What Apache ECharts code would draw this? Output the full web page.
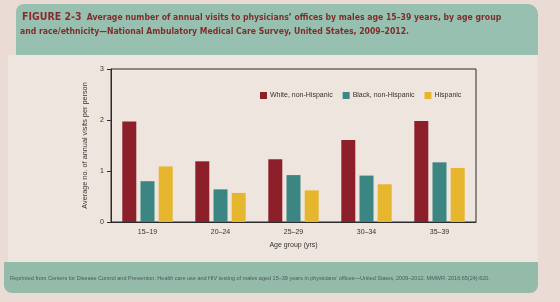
<!DOCTYPE html>
<html>
<head>
    <meta charset="utf-8">
    <script src="https://cdn.jsdelivr.net/npm/echarts@6/dist/echarts.min.js"></script>
    <style>
        html, body { margin:0; padding:0; background:#eadcd4; }
    </style>
</head>
<body>
    <div id="main" style="width:560px;height:302px"></div>
    <script type="text/javascript">
        // age groups and visits per person
        var ageGroups = ['15\u201319', '20\u201324', '25\u201329', '30\u201334', '35\u201339'];
        var whiteNH = [1.97, 1.19, 1.23, 1.61, 1.98];
        var blackNH = [0.80, 0.64, 0.92, 0.91, 1.17];
        var hispanic = [1.09, 0.57, 0.62, 0.74, 1.06];
        var yTicks = [0, 1, 2, 3];

        var myChart = echarts.init(document.getElementById('main'));
        var font = 'Liberation Sans, Arial, sans-serif';

        var option = {
            backgroundColor: '#eadcd4',
            animation: false,
            graphic: [
                // teal header band
                { type: 'rect', shape: { x: 16, y: 4, width: 522, height: 60, r: [8, 10, 0, 0] },
                  style: { fill: '#97c0b0' }, z: -10 },
                // light panel
                { type: 'rect', shape: { x: 8, y: 55, width: 530, height: 210 },
                  style: { fill: '#efe5df' }, z: -9 },
                // footer band
                { type: 'rect', shape: { x: 4, y: 262, width: 534, height: 31, r: [0, 0, 8, 8] },
                  style: { fill: '#94bba9' }, z: -9 },
                { type: 'text', left: 22, top: 12, z: 5,
                  style: {
                    text: '{a|FIGURE 2-3}{b|  Average number of annual visits to physicians\u2019 offices by males age 15\u201339 years, by age group}',
                    rich: {
                        a: { fontSize: 10.5, fontWeight: 'bold', fill: '#8a2a2c', fontFamily: 'DejaVu Sans Condensed, sans-serif' },
                        b: { fontSize: 8.6, fontWeight: 'bold', fill: '#7e2e2c', fontFamily: 'DejaVu Sans Condensed, sans-serif' }
                    }
                  } },
                { type: 'text', left: 20, top: 27, z: 5,
                  style: {
                    text: 'and race/ethnicity\u2014National Ambulatory Medical Care Survey, United States, 2009\u20132012.',
                    fontSize: 8.6, fontWeight: 'bold', fill: '#7e2e2c', fontFamily: 'DejaVu Sans Condensed, sans-serif'
                  } },
                { type: 'text', left: 10, top: 275, z: 5,
                  style: {
                    text: 'Reprinted from Centers for Disease Control and Prevention. Health care use and HIV testing of males aged 15\u201339 years in physicians\u2019 offices\u2014United States, 2009\u20132012. MMWR. 2016;65(24):620.',
                    fontSize: 5.5, fill: '#4a5a55', fontFamily: font
                  } }
            ],
            legend: {
                left: 255, top: 87,
                itemWidth: 7, itemHeight: 7, itemGap: 10,
                icon: 'rect',
                textStyle: { fontSize: 7, color: '#333', fontFamily: font, padding: [0, 0, 0, -2] },
                data: ['White, non-Hispanic', 'Black, non-Hispanic', 'Hispanic']
            },
            grid: {
                left: 111, right: 84, top: 69, bottom: 80,
                show: true, borderColor: '#2b2b2b', borderWidth: 1, backgroundColor: 'transparent', z: 3
            },
            xAxis: {
                type: 'category',
                z: 6,
                data: ageGroups,
                name: 'Age group (yrs)',
                nameLocation: 'middle',
                nameGap: 20,
                nameTextStyle: { fontSize: 7, color: '#333', fontFamily: font },
                axisLine: { lineStyle: { color: '#2b2b2b', width: 1 } },
                axisTick: { alignWithLabel: true, length: 3, lineStyle: { color: '#2b2b2b' } },
                axisLabel: { fontSize: 7, color: '#333', margin: 7, fontFamily: font }
            },
            yAxis: {
                type: 'value',
                z: 6,
                min: yTicks[0], max: yTicks[yTicks.length - 1], interval: 1,
                name: 'Average no. of annual visits per person',
                nameLocation: 'middle',
                nameGap: 23,
                nameTextStyle: { fontSize: 7.3, color: '#333', fontFamily: font },
                axisLine: { show: true, lineStyle: { color: '#2b2b2b', width: 1 } },
                axisTick: { show: true, length: 4, lineStyle: { color: '#2b2b2b' } },
                axisLabel: { fontSize: 7, color: '#333', margin: 7, fontFamily: font },
                splitLine: { show: false }
            },
            series: [
                { name: 'White, non-Hispanic', type: 'bar', data: whiteNH, barWidth: 14, barGap: '30%',
                  itemStyle: { color: '#8c1f2a' }, z: 4 },
                { name: 'Black, non-Hispanic', type: 'bar', data: blackNH, barWidth: 14, barGap: '30%',
                  itemStyle: { color: '#3b8582' }, z: 4 },
                { name: 'Hispanic', type: 'bar', data: hispanic, barWidth: 14, barGap: '30%',
                  itemStyle: { color: '#e6b62e' }, z: 4 }
            ]
        };
        myChart.setOption(option);
    </script>
</body>
</html>
